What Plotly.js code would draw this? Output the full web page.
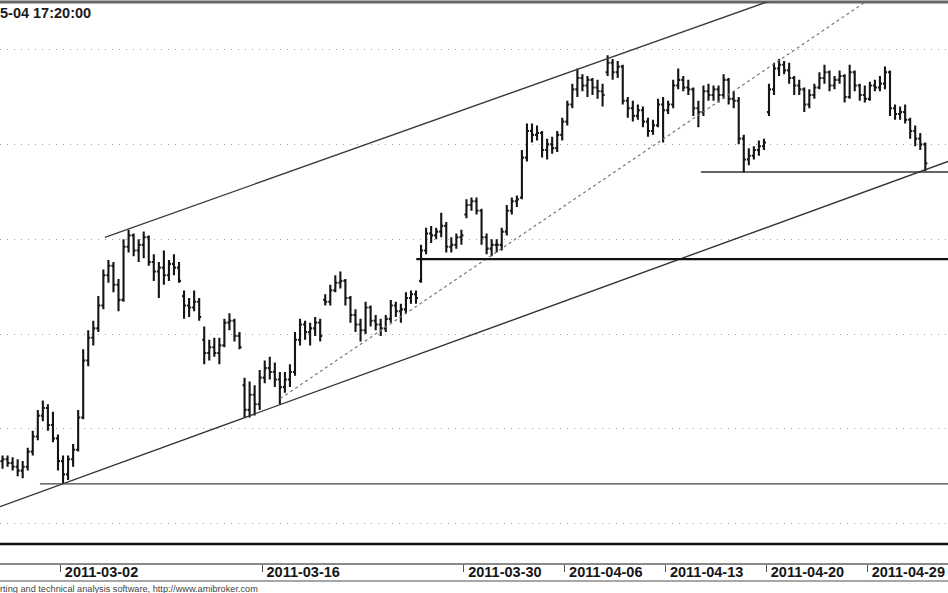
<!DOCTYPE html>
<html>
<head>
<meta charset="utf-8">
<script src="https://cdn.plot.ly/plotly-3.0.1.min.js"></script>
<style>
html,body{margin:0;padding:0;background:#fff;}
#chart{width:948px;height:593px;}
</style>
</head>
<body>
<div id="chart"></div>
<script>
// ---- data (price units; 4 bars per trading day) ----
const barsPerDay = 4;
const opens = [2633,2634,2632,2630,2628,2630,2638,2646,2657,2661,2652,2645,2633,2626,2634,2639,2656,2686,2698,2703,
2715,2731,2736,2726,2718,2746,2752,2744,2747,2751,2738,2733,2735,2731,2737,2735,2720,2715,2714,2717,
2697,2690,2693,2690,2694,2706,2707,2699,2673,2660,2668,2663,2677,2682,2680,2676,2672,2676,2680,2697,
2705,2701,2703,2706,2718,2717,2723,2727,2728,2719,2710,2705,2702,2714,2707,2705,2703,2708,2715,2712,
2713,2719,2721,2728,2744,2753,2752,2754,2757,2746,2747,2751,2763,2768,2770,2765,2751,2745,2747,2747,
2754,2765,2770,2772,2793,2807,2805,2806,2797,2800,2798,2805,2812,2821,2829,2835,2831,2834,2830,2828,
2838,2843,2838,2841,2823,2819,2815,2818,2812,2807,2810,2821,2818,2821,2831,2834,2830,2829,2819,2817,
2828,2826,2829,2826,2834,2824,2823,2803,2792,2794,2797,2799,2817,2829,2840,2842,2839,2835,2831,2829,
2821,2826,2830,2835,2838,2831,2834,2836,2825,2838,2831,2826,2824,2831,2830,2832,2838,2819,2816,2817,
2813,2807,2803,2800];
const highs = [2636,2636,2635,2634,2633,2640,2649,2660,2665,2663,2659,2647,2636,2636,2642,2660,2692,2702,2707,2720,
2734,2739,2738,2729,2750,2755,2753,2750,2754,2752,2742,2738,2744,2739,2742,2738,2723,2719,2723,2719,
2704,2697,2698,2698,2708,2711,2708,2701,2677,2675,2673,2681,2686,2688,2685,2680,2680,2684,2701,2708,
2707,2706,2709,2708,2721,2726,2731,2733,2729,2720,2713,2708,2717,2715,2710,2708,2710,2718,2717,2716,
2722,2723,2723,2747,2756,2757,2756,2764,2759,2751,2753,2755,2771,2772,2772,2766,2753,2750,2750,2756,
2768,2772,2773,2797,2811,2811,2810,2807,2803,2804,2807,2814,2823,2832,2840,2837,2836,2835,2834,2832,
2847,2845,2844,2842,2825,2823,2821,2820,2814,2813,2824,2825,2823,2834,2840,2836,2834,2830,2823,2831,
2832,2831,2831,2837,2835,2828,2825,2805,2798,2799,2802,2803,2832,2843,2845,2844,2843,2836,2834,2830,
2829,2832,2838,2842,2839,2836,2839,2837,2842,2839,2832,2831,2833,2834,2836,2841,2839,2821,2820,2821,
2814,2810,2806,2801];
const lows = [2629,2630,2628,2625,2624,2628,2636,2644,2654,2649,2643,2628,2621,2623,2630,2638,2655,2683,2694,2701,
2713,2727,2722,2712,2717,2743,2741,2738,2740,2736,2728,2719,2726,2728,2731,2727,2708,2709,2712,2707,
2684,2686,2688,2684,2693,2702,2696,2692,2656,2656,2657,2660,2674,2676,2672,2663,2669,2672,2678,2694,
2697,2694,2699,2696,2715,2715,2722,2724,2715,2706,2701,2696,2700,2704,2702,2699,2701,2706,2709,2706,
2711,2716,2716,2727,2742,2748,2750,2751,2743,2743,2745,2747,2761,2765,2763,2747,2742,2741,2743,2744,
2752,2763,2767,2771,2791,2801,2802,2793,2792,2795,2796,2802,2810,2819,2825,2828,2825,2826,2824,2820,
2836,2834,2835,2821,2814,2812,2813,2809,2804,2805,2809,2801,2816,2819,2829,2828,2826,2815,2809,2815,
2823,2823,2822,2824,2821,2819,2800,2785,2789,2792,2794,2797,2815,2826,2836,2837,2832,2826,2826,2817,
2819,2824,2829,2832,2828,2829,2832,2822,2824,2828,2823,2822,2823,2828,2828,2829,2815,2813,2813,2811,
2803,2799,2797,2786];
const closes = [2634,2632,2630,2628,2630,2638,2646,2657,2661,2652,2645,2633,2626,2634,2639,2656,2686,2698,2703,2715,
2731,2736,2726,2718,2746,2752,2744,2747,2751,2738,2733,2735,2731,2737,2735,2728,2715,2714,2717,2709,
2690,2693,2690,2694,2706,2707,2699,2693,2660,2668,2663,2677,2682,2680,2676,2672,2676,2680,2697,2705,
2701,2703,2706,2699,2717,2723,2727,2728,2719,2710,2705,2702,2714,2707,2705,2703,2708,2715,2712,2713,
2719,2721,2719,2744,2753,2752,2754,2757,2746,2747,2751,2752,2768,2770,2765,2751,2745,2747,2747,2754,
2765,2770,2771,2793,2807,2805,2806,2797,2800,2798,2805,2812,2821,2829,2835,2831,2834,2830,2828,2826,
2843,2838,2841,2823,2819,2815,2818,2812,2807,2810,2821,2818,2821,2831,2834,2830,2829,2819,2817,2828,
2826,2829,2826,2834,2824,2823,2803,2792,2794,2797,2799,2801,2829,2840,2842,2839,2835,2831,2829,2821,
2826,2830,2835,2838,2831,2834,2836,2825,2838,2831,2826,2824,2831,2830,2832,2838,2819,2816,2817,2813,
2807,2803,2800,2790];

// x axis: trading-day index (0 = 2011-02-25)
const tickDays = [3, 13, 23, 28, 33, 38, 43];
const tickLabels = ['2011-03-02','2011-03-16','2011-03-30','2011-04-06','2011-04-13','2011-04-20','2011-04-29'];

// trend lines drawn on the chart (day index, price)
const upperChannelX = [5.2, 47];   const upperChannelY = [2751, 2909];
const lowerChannelX = [0, 47];     const lowerChannelY = [2609, 2791];
const dottedTrendX  = [13.9, 44];  const dottedTrendY  = [2666, 2883];
const supportLevels = [2621, 2739.5, 2785.4];
const supportStartX = [1.98, 20.64, 34.75];

const titleText = '5-04 17:20:00';
const footerText = 'rting and technical analysis software, http://www.amibroker.com';

// ---- build ----
const xs = opens.map((_, i) => (i + 0.5) / barsPerDay);

const trace = {
  type: 'ohlc',
  x: xs, open: opens, high: highs, low: lows, close: closes,
  increasing: {line: {color: '#151515', width: 2.1}},
  decreasing: {line: {color: '#151515', width: 2.1}},
  tickwidth: 0.4,
  hoverinfo: 'skip',
  showlegend: false
};

const FONT = 'Arial, "Liberation Sans", sans-serif';
const shapes = [
  // top frame line
  {type:'line', xref:'paper', yref:'paper', x0:0, x1:1, y0:1, y1:1, line:{color:'#666', width:3}},
  // bottom black base line of price pane
  {type:'line', xref:'paper', yref:'y domain', x0:0, x1:1, y0:0, y1:0, line:{color:'#111', width:2.5}},
  // bottom edge of date strip
  {type:'line', xref:'paper', yref:'paper', x0:0, x1:1, y0:-0.0321, y1:-0.0321, line:{color:'#8a8a8a', width:1.5}},
  {type:'line', xref:'x', yref:'y', x0:upperChannelX[0], x1:upperChannelX[1], y0:upperChannelY[0], y1:upperChannelY[1], line:{color:'#3a3a3a', width:1.3}},
  {type:'line', xref:'x', yref:'y', x0:lowerChannelX[0], x1:lowerChannelX[1], y0:lowerChannelY[0], y1:lowerChannelY[1], line:{color:'#333', width:1.4}},
  {type:'line', xref:'x', yref:'y', x0:dottedTrendX[0], x1:dottedTrendX[1], y0:dottedTrendY[0], y1:dottedTrendY[1], line:{color:'#777', width:1.2, dash:'3px,3px'}}
];
const levelWidths = [1.4, 2.2, 1.5];
const levelColors = ['#444', '#111', '#333'];
supportLevels.forEach((lv, k) => {
  shapes.push({type:'line', xref:'x', yref:'y', x0:supportStartX[k], x1:47, y0:lv, y1:lv,
    line:{color:levelColors[k], width:levelWidths[k]}});
});

const layout = {
  width: 948, height: 593,
  margin: {l:0, r:0, t:2, b:30, pad:0},
  paper_bgcolor: '#fff', plot_bgcolor: '#fff',
  showlegend: false,
  xaxis: {
    range: [0, 47], anchor: 'free', position: 0,
    rangeslider: {visible: false},
    showgrid: false, zeroline: false,
    showline: true, linecolor: '#8a8a8a', linewidth: 1.5,
    ticks: 'outside', ticklen: 7, tickcolor: '#555', tickwidth: 1,
    tickmode: 'array', tickvals: tickDays, ticktext: tickLabels,
    tickfont: {family: FONT, size: 14.5, color: '#151515', weight: 'bold'},
    ticklabelshift: 41, ticklabelstandoff: -12,
    fixedrange: true
  },
  yaxis: {
    domain: [0.0339, 1],
    range: [2589.3, 2875.05],
    tick0: 2600, dtick: 50,
    showticklabels: false, ticks: '',
    showgrid: true, gridcolor: '#a0a0a0', gridwidth: 1, griddash: '1px,6px',
    zeroline: false, showline: false, fixedrange: true
  },
  shapes: shapes,
  annotations: [
    {text: titleText, xref:'paper', yref:'paper', x:0, y:1, xanchor:'left', yanchor:'top',
     xshift:-2, yshift:-1, showarrow:false, font:{family:FONT, size:14.5, color:'#1a1a1a', weight:'bold'}},
    {text: footerText, xref:'paper', yref:'paper', x:0, y:-0.0446, xanchor:'left', yanchor:'middle',
     xshift:-2, yshift:-1, showarrow:false, font:{family:FONT, size:9.2, color:'#444'}}
  ]
};

Plotly.newPlot('chart', [trace], layout, {displayModeBar:false, staticPlot:true});
</script>
</body>
</html>
